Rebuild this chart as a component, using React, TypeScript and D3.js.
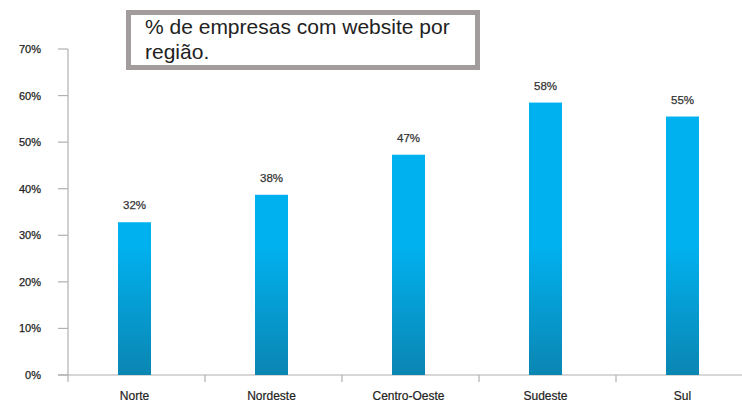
import React from "react";
import * as d3 from "d3";

const categories = ["Norte", "Nordeste", "Centro-Oeste", "Sudeste", "Sul"];
const values = [32.8, 38.7, 47.3, 58.5, 55.5];
const valueLabels = ["32%", "38%", "47%", "58%", "55%"];
const yTicks = [0, 10, 20, 30, 40, 50, 60, 70];
const titleLines = ["% de empresas com website por", "região."];

const W = 742;
const H = 404;

export default function App() {
  const x = d3.scaleBand<string>().domain(categories).range([68, 753]).paddingInner(0).paddingOuter(0);
  const y = d3.scaleLinear().domain([0, 70]).range([375, 49]);
  const barW = 33;
  const font = "'Liberation Sans', Arial, sans-serif";
  const boundaries = categories.map((c) => (x(c) as number) + x.bandwidth());

  return (
    <svg width={W} height={H} style={{ position: "absolute", left: 0, top: 0, background: "#fff" }}>
      <defs>
        <linearGradient id="barGrad" gradientUnits="userSpaceOnUse" x1="0" y1={y(28)} x2="0" y2={y(0)}>
          <stop offset="0%" stopColor="#00b1ef" />
          <stop offset="100%" stopColor="#0b86b2" />
        </linearGradient>
      </defs>
      <rect x={0} y={0} width={W} height={H} fill="#fff" />
      {/* y axis */}
      <line x1={68} x2={68} y1={y(70)} y2={y(0)} stroke="#b0b0b0" strokeWidth={1.2} />
      {yTicks.map((t) => (
        <g key={t}>
          <line x1={58} x2={68} y1={y(t)} y2={y(t)} stroke="#b0b0b0" strokeWidth={1.2} />
          <text x={41} y={y(t) + 4} textAnchor="end" fontFamily={font} fontSize={11} fill="#222" stroke="#222" strokeWidth={0.25}>
            {t}%
          </text>
        </g>
      ))}
      {/* x axis */}
      <line x1={58} x2={W} y1={y(0)} y2={y(0)} stroke="#b0b0b0" strokeWidth={1.2} />
      {boundaries.map((b, i) => (
        <line key={i} x1={b} x2={b} y1={y(0)} y2={y(0) + 7} stroke="#b0b0b0" strokeWidth={1.2} />
      ))}
      <line x1={68} x2={68} y1={y(0)} y2={y(0) + 7} stroke="#b0b0b0" strokeWidth={1.2} />
      {/* bars */}
      {categories.map((c, i) => {
        const cx = (x(c) as number) + x.bandwidth() / 2 - 2;
        return (
          <g key={c}>
            <rect x={cx - barW / 2} y={y(values[i])} width={barW} height={y(0) - y(values[i])} fill="url(#barGrad)" />
            <text x={cx} y={y(values[i]) - 13} textAnchor="middle" fontFamily={font} fontSize={11.5} fill="#333" stroke="#333" strokeWidth={0.25}>
              {valueLabels[i]}
            </text>
            <text x={cx} y={400} textAnchor="middle" fontFamily={font} fontSize={12} fill="#222" stroke="#222" strokeWidth={0.2}>
              {c}
            </text>
          </g>
        );
      })}
      {/* title box */}
      <rect x={128.5} y={12.5} width={349} height={55} fill="#fff" stroke="#a39c9c" strokeWidth={5} />
      {titleLines.map((l, i) => (
        <text key={i} x={145} y={34 + i * 25} fontFamily={font} fontSize={21} fill="#222">
          {l}
        </text>
      ))}
    </svg>
  );
}
